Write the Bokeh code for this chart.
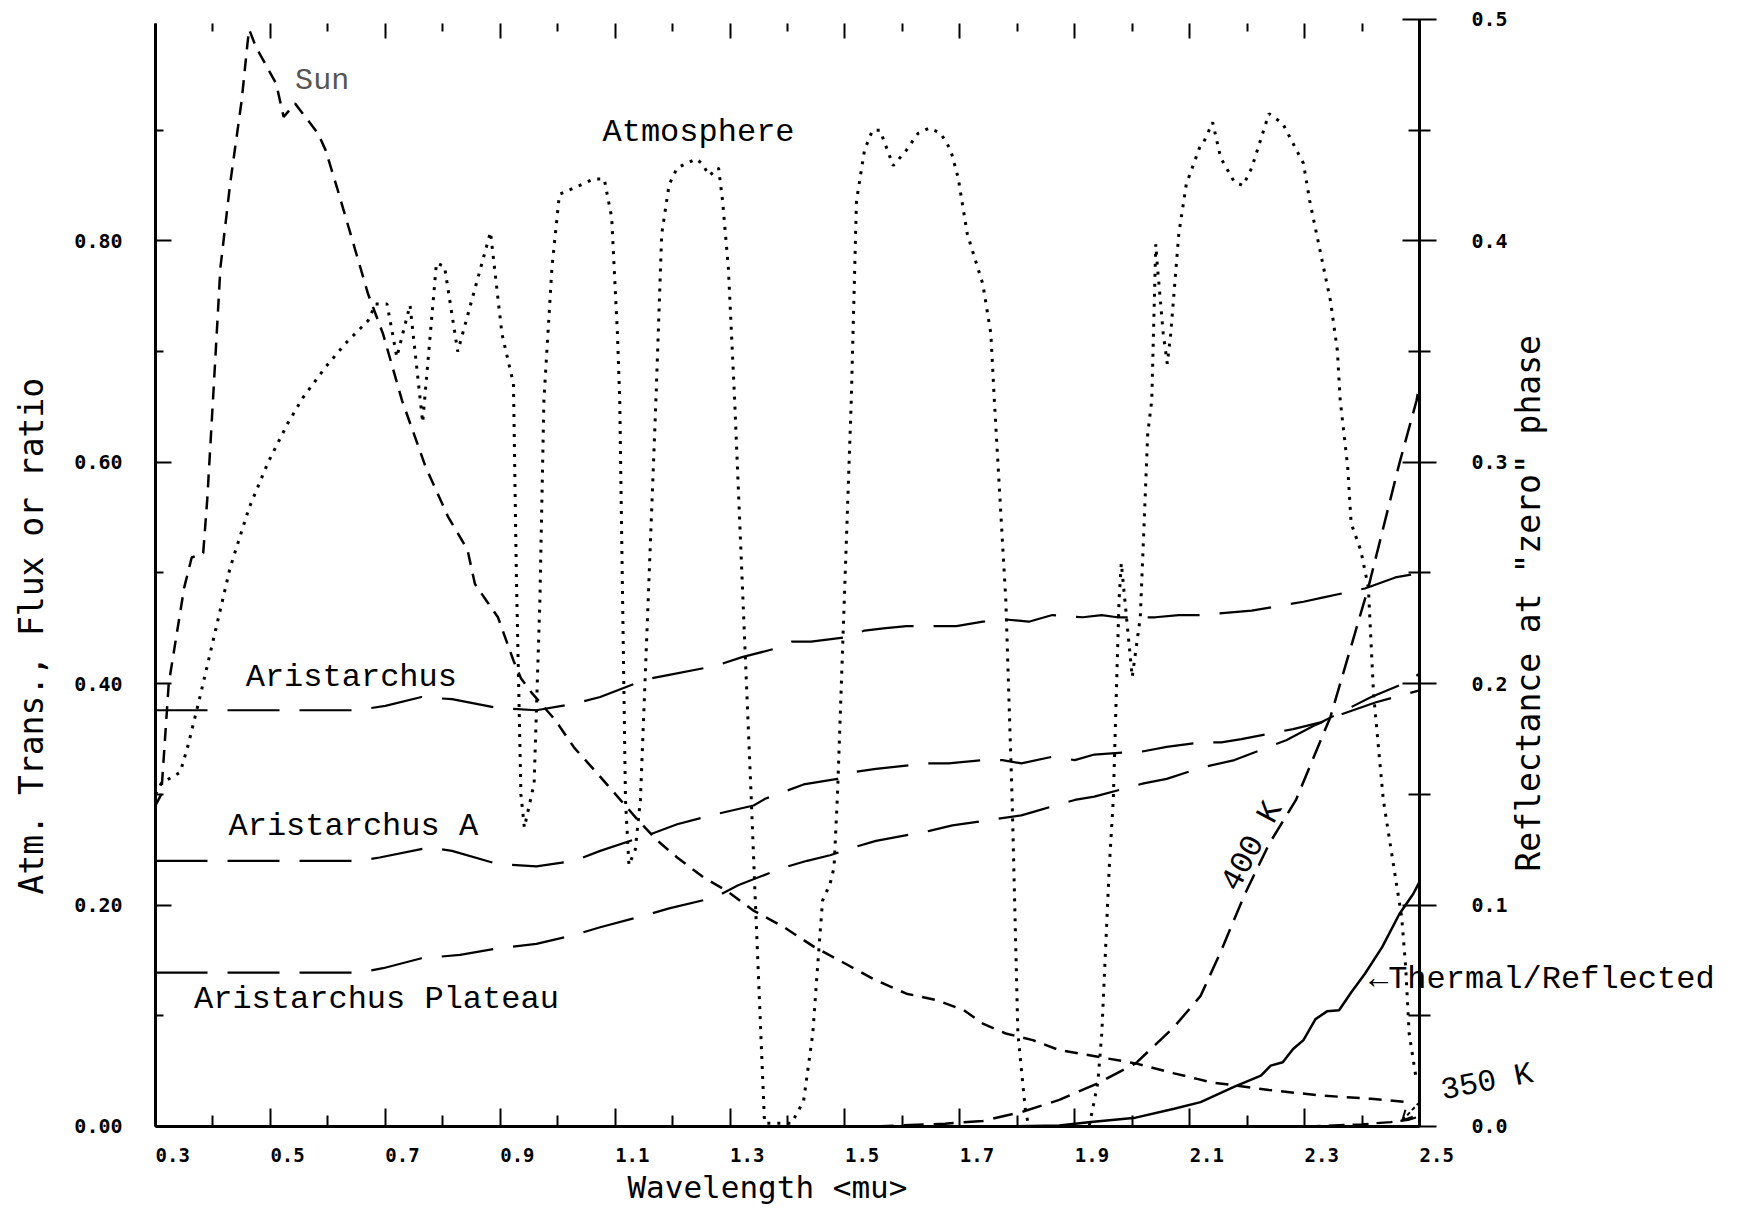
import math
from bokeh.plotting import figure
from bokeh.models import (Range1d, LinearAxis, FixedTicker, NumeralTickFormatter,
                          Label, Arrow, OpenHead)
from bokeh.embed import file_html
from bokeh.resources import INLINE

# ---------------- data ----------------
sun_wl = [0.30, 0.31, 0.323, 0.35, 0.363, 0.383, 0.39, 0.40, 0.413, 0.43, 0.45, 0.46, 0.463,
          0.475, 0.51, 0.523, 0.543, 0.583, 0.596, 0.616, 0.643, 0.67, 0.696, 0.729, 0.77,
          0.809, 0.843, 0.856, 0.876, 0.896, 0.923, 0.936, 0.956, 0.996, 1.029, 1.069, 1.141,
          1.174, 1.208, 1.254, 1.294, 1.341, 1.394, 1.447, 1.501, 1.554, 1.607, 1.66, 1.707,
          1.74, 1.78, 1.827, 1.873, 1.94, 2.006, 2.073, 2.113, 2.136, 2.238, 2.328, 2.416, 2.48]
sun_flux = [0.29, 0.30, 0.40, 0.487, 0.514, 0.518, 0.566, 0.656, 0.776, 0.852, 0.927, 0.978, 0.991,
            0.975, 0.942, 0.912, 0.924, 0.897, 0.882, 0.848, 0.80, 0.752, 0.716, 0.656, 0.596,
            0.551, 0.521, 0.49, 0.475, 0.46, 0.421, 0.405, 0.391, 0.367, 0.342, 0.319, 0.276,
            0.258, 0.243, 0.225, 0.213, 0.195, 0.18, 0.162, 0.147, 0.132, 0.12, 0.114, 0.105,
            0.093, 0.084, 0.078, 0.069, 0.063, 0.057, 0.048, 0.043, 0.04, 0.033, 0.028, 0.025, 0.022]

atm_wl = [0.30, 0.31, 0.343, 0.356, 0.376, 0.403, 0.43, 0.463, 0.496, 0.53, 0.556, 0.596, 0.63,
          0.67, 0.683, 0.703, 0.72, 0.743, 0.765, 0.789, 0.803, 0.826, 0.883, 0.903, 0.923,
          0.928, 0.936, 0.942, 0.959, 0.969, 0.976, 0.99, 1.003, 1.029, 1.063, 1.081, 1.094,
          1.104, 1.108, 1.118, 1.124, 1.135, 1.144, 1.171, 1.181, 1.194, 1.208, 1.241, 1.251,
          1.264, 1.28, 1.287, 1.297, 1.308, 1.337, 1.344, 1.36, 1.407, 1.428, 1.444, 1.454,
          1.461, 1.474, 1.481, 1.487, 1.511, 1.52, 1.534, 1.548, 1.561, 1.584, 1.607, 1.627,
          1.647, 1.667, 1.684, 1.697, 1.713, 1.74, 1.754, 1.76, 1.78, 1.791, 1.801, 1.814,
          1.82, 1.925, 1.94, 1.947, 1.96, 1.967, 1.977, 1.981, 1.99, 2.0, 2.014, 2.02, 2.027,
          2.034, 2.041, 2.044, 2.054, 2.061, 2.067, 2.081, 2.094, 2.117, 2.125, 2.14, 2.154,
          2.178, 2.193, 2.208, 2.238, 2.262, 2.298, 2.309, 2.321, 2.345, 2.357, 2.362, 2.375,
          2.381, 2.398, 2.411, 2.42, 2.437, 2.469, 2.476, 2.482, 2.494]
atm_trans = [0.30, 0.31, 0.32, 0.343, 0.385, 0.445, 0.505, 0.559, 0.60, 0.635, 0.658, 0.686, 0.707,
             0.728, 0.743, 0.743, 0.695, 0.742, 0.636, 0.78, 0.777, 0.70, 0.808, 0.716, 0.671,
             0.50, 0.30, 0.27, 0.31, 0.475, 0.656, 0.776, 0.842, 0.848, 0.856, 0.856, 0.821,
             0.716, 0.656, 0.295, 0.236, 0.25, 0.295, 0.656, 0.806, 0.851, 0.866, 0.874, 0.87,
             0.859, 0.866, 0.836, 0.776, 0.656, 0.295, 0.204, 0.003, 0.003, 0.023, 0.084, 0.156,
             0.204, 0.219, 0.234, 0.30, 0.656, 0.836, 0.882, 0.90, 0.90, 0.868, 0.882, 0.897,
             0.902, 0.897, 0.882, 0.857, 0.806, 0.761, 0.716, 0.656, 0.475, 0.295, 0.084, 0.015,
             0.0, 0.0, 0.039, 0.084, 0.234, 0.295, 0.475, 0.509, 0.46, 0.406, 0.46, 0.536, 0.626,
             0.656, 0.797, 0.776, 0.716, 0.689, 0.716, 0.806, 0.851, 0.884, 0.89, 0.907, 0.875,
             0.853, 0.85, 0.866, 0.915, 0.906, 0.87, 0.836, 0.806, 0.746, 0.701, 0.656, 0.596,
             0.545, 0.52, 0.487, 0.391, 0.295, 0.189, 0.144, 0.084, 0.044]

arist_wl = [0.30, 0.65, 0.70, 0.763, 0.816, 0.896, 0.963, 1.029, 1.074, 1.154, 1.194, 1.274, 1.321,
            1.381, 1.407, 1.441, 1.501, 1.534, 1.567, 1.607, 1.66, 1.694, 1.74, 1.78, 1.82, 1.861,
            1.914, 1.947, 1.974, 2.04, 2.081, 2.119, 2.208, 2.298, 2.333, 2.405, 2.458, 2.50]
arist_refl = [0.188, 0.188, 0.190, 0.194, 0.193, 0.189, 0.188, 0.191, 0.194, 0.202, 0.204, 0.208,
              0.212, 0.216, 0.219, 0.219, 0.221, 0.224, 0.225, 0.226, 0.226, 0.226, 0.228, 0.229,
              0.228, 0.231, 0.230, 0.231, 0.230, 0.230, 0.231, 0.231, 0.233, 0.237, 0.239, 0.243,
              0.248, 0.250]

aristA_wl = [0.30, 0.656, 0.69, 0.776, 0.816, 0.896, 0.963, 1.029, 1.074, 1.161, 1.208, 1.274, 1.341,
             1.361, 1.428, 1.487, 1.514, 1.554, 1.64, 1.68, 1.74, 1.774, 1.807, 1.861, 1.90, 1.934,
             2.02, 2.06, 2.119, 2.155, 2.19, 2.28, 2.328, 2.416, 2.476, 2.50]
aristA_refl = [0.120, 0.120, 0.1215, 0.126, 0.1245, 0.1185, 0.1175, 0.120, 0.1245, 0.132, 0.1365,
               0.141, 0.145, 0.148, 0.1545, 0.157, 0.160, 0.1615, 0.164, 0.164, 0.1655, 0.1655,
               0.164, 0.167, 0.1655, 0.168, 0.1695, 0.1715, 0.1735, 0.1735, 0.175, 0.1795, 0.1825,
               0.194, 0.2005, 0.2045]

plateau_wl = [0.30, 0.656, 0.696, 0.763, 0.83, 0.896, 0.963, 1.029, 1.074, 1.154, 1.194, 1.274,
              1.314, 1.394, 1.434, 1.474, 1.514, 1.554, 1.647, 1.687, 1.74, 1.807, 1.84, 1.90,
              1.934, 2.02, 2.06, 2.119, 2.178, 2.268, 2.316, 2.357, 2.423, 2.50]
plateau_refl = [0.0695, 0.0695, 0.0715, 0.076, 0.0775, 0.0805, 0.0825, 0.0865, 0.09, 0.0955, 0.0985,
                0.1035, 0.109, 0.117, 0.120, 0.1225, 0.126, 0.129, 0.1335, 0.136, 0.138, 0.1405,
                0.143, 0.1475, 0.149, 0.155, 0.157, 0.162, 0.1655, 0.1745, 0.181, 0.1855, 0.1915,
                0.197]

thermal_wl = [1.78, 1.873, 1.928, 2.006, 2.073, 2.119, 2.178, 2.224, 2.241, 2.262, 2.28, 2.298,
              2.319, 2.339, 2.36, 2.381, 2.405, 2.435, 2.465, 2.489, 2.50]
thermal_ratio = [0.0, 0.001, 0.004, 0.008, 0.016, 0.022, 0.036, 0.046, 0.055, 0.058, 0.07, 0.078,
                 0.097, 0.104, 0.105, 0.121, 0.138, 0.162, 0.192, 0.21, 0.221]

k400_wl = [1.55, 1.601, 1.674, 1.74, 1.807, 1.873, 1.94, 2.006, 2.073, 2.119, 2.155, 2.196, 2.238,
           2.285, 2.345, 2.411, 2.465, 2.495, 2.50]
k400_ratio = [0.0, 0.001, 0.0025, 0.005, 0.013, 0.024, 0.039, 0.057, 0.09, 0.118, 0.159, 0.21,
              0.255, 0.295, 0.37, 0.487, 0.599, 0.656, 0.672]

k350_wl = [2.30, 2.40, 2.45, 2.48, 2.50]
k350_ratio = [0.0, 0.002, 0.004, 0.006, 0.009]

x_ticks = [0.3, 0.5, 0.7, 0.9, 1.1, 1.3, 1.5, 1.7, 1.9, 2.1, 2.3, 2.5]
x_tick_labels = ["0.3", "0.5", "0.7", "0.9", "1.1", "1.3", "1.5", "1.7", "1.9", "2.1", "2.3", "2.5"]
x_minor_ticks = [0.4, 0.6, 0.8, 1.0, 1.2, 1.4, 1.6, 1.8, 2.0, 2.2, 2.4]
left_ticks = [0.0, 0.2, 0.4, 0.6, 0.8]
left_minor_ticks = [0.1, 0.3, 0.5, 0.7, 0.9]
right_ticks = [0.0, 0.1, 0.2, 0.3, 0.4, 0.5]
right_minor_ticks = [0.05, 0.15, 0.25, 0.35, 0.45]

# annotation texts: (text, x, y, angle_deg, align, size, color)   (y = vertical centre)
annotations = [
    ("Sun", 0.543, 0.944, 0, "left", "30px", "#555555"),
    ("Atmosphere", 1.078, 0.898, 0, "left", "32px", "black"),
    ("Aristarchus", 0.457, 0.406, 0, "left", "32px", "black"),
    ("Aristarchus A", 0.427, 0.271, 0, "left", "32px", "black"),
    ("Aristarchus Plateau", 0.367, 0.115, 0, "left", "32px", "black"),
    ("\u2190Thermal/Reflected", 2.412, 0.133, 0, "left", "32px", "black"),
    ("400 K", 2.209, 0.253, 62, "center", "32px", "black"),
    ("350 K", 2.538, 0.032, 11, "left", "31px", "black"),
]
arrow_350 = (2.50, 0.022, 2.47, 0.0054)

# ---------------- figure ----------------
# the data frame fills the whole canvas; axes are pinned with fixed_location
W, H = 1720, 1206
X_LO, X_HI = 0.0302, 3.0239          # 0.3 -> 155 px, 2.5 -> 1419 px
Y_LO, Y_HI = -0.07227, 1.01716       # 0 -> 1126 px, 1 -> 19 px
p = figure(width=W, height=H, x_range=Range1d(X_LO, X_HI), y_range=Range1d(Y_LO, Y_HI),
           output_backend="svg", toolbar_location=None,
           x_axis_location=None, y_axis_location=None,
           min_border_left=0, min_border_right=0, min_border_top=0, min_border_bottom=0)
p.extra_y_ranges = {"refl": Range1d(Y_LO / 2, Y_HI / 2)}
p.outline_line_color = None
p.background_fill_color = "white"
p.border_fill_color = "white"
p.grid.visible = False

tick_font = "DejaVu Sans Mono"

bottom = LinearAxis(ticker=FixedTicker(ticks=x_ticks, minor_ticks=x_minor_ticks),
                    fixed_location=0.0, bounds=(0.3, 2.5),
                    axis_line_width=3, major_tick_in=18, major_tick_out=0,
                    minor_tick_in=11, minor_tick_out=0, major_tick_line_width=2,
                    minor_tick_line_width=2, major_label_text_color=None)
p.add_layout(bottom, "below")

top = LinearAxis(ticker=FixedTicker(ticks=x_ticks, minor_ticks=x_minor_ticks),
                 fixed_location=0.996, bounds=(0.3, 2.5),
                 axis_line_color=None, major_tick_in=15, major_tick_out=0,
                 minor_tick_in=8, minor_tick_out=0, major_tick_line_width=2,
                 minor_tick_line_width=2, major_label_text_color=None)
p.add_layout(top, "above")

left = LinearAxis(ticker=FixedTicker(ticks=left_ticks, minor_ticks=left_minor_ticks),
                  formatter=NumeralTickFormatter(format="0.00"),
                  fixed_location=0.3, bounds=(0.0, 0.996),
                  axis_line_width=3, major_tick_in=16, major_tick_out=0,
                  minor_tick_in=8, minor_tick_out=0, major_tick_line_width=2,
                  minor_tick_line_width=2, major_label_standoff=33,
                  major_label_text_font=tick_font, major_label_text_font_style="bold",
                  major_label_text_font_size="20px", major_label_text_color="black")
p.add_layout(left, "left")

right = LinearAxis(y_range_name="refl",
                   ticker=FixedTicker(ticks=right_ticks, minor_ticks=right_minor_ticks),
                   formatter=NumeralTickFormatter(format="0.0"),
                   fixed_location=2.5, bounds=(0.0, 0.5),
                   axis_line_width=3, major_tick_in=17, major_tick_out=17,
                   minor_tick_in=11, minor_tick_out=11, major_tick_line_width=2,
                   minor_tick_line_width=2, major_label_standoff=35,
                   major_label_text_font=tick_font, major_label_text_font_style="bold",
                   major_label_text_font_size="20px", major_label_text_color="black")
p.add_layout(right, "right")

# ---------------- curves ----------------
p.line(sun_wl, sun_flux, line_color="black", line_width=2.5, line_dash="13 9")
p.line(atm_wl, atm_trans, line_color="black", line_width=3, line_dash="3 7")
p.line(arist_wl, arist_refl, y_range_name="refl", line_color="black", line_width=2.2, line_dash="52 20")
p.line(aristA_wl, aristA_refl, y_range_name="refl", line_color="black", line_width=2.2, line_dash="52 20")
p.line(plateau_wl, plateau_refl, y_range_name="refl", line_color="black", line_width=2.2, line_dash="52 20")
p.line(k400_wl, k400_ratio, line_color="black", line_width=2.5, line_dash="20 10")
p.line(k350_wl, k350_ratio, line_color="black", line_width=2.2, line_dash="16 8")
p.line(thermal_wl, thermal_ratio, line_color="black", line_width=2.5)

# ---------------- texts ----------------
for (txt, x, y, ang, al, sz, col) in annotations:
    p.add_layout(Label(x=x, y=y, text=txt, angle=math.radians(ang), text_align=al,
                       text_baseline="middle", text_font="Liberation Mono", text_font_size=sz,
                       text_color=col))

p.add_layout(Arrow(end=OpenHead(size=10, line_width=2), x_start=arrow_350[0], y_start=arrow_350[1],
                   x_end=arrow_350[2], y_end=arrow_350[3], line_width=2, line_dash="4 3"))

for t, s in zip(x_ticks, x_tick_labels):
    p.add_layout(Label(x=t, y=-0.026, text=s, text_align="left", text_baseline="middle",
                       text_font=tick_font, text_font_style="bold", text_font_size="19px",
                       text_color="black"))

p.add_layout(Label(x=0.084, y=0.443, text="Atm. Trans., Flux or ratio", angle=math.pi / 2,
                   text_align="center", text_baseline="middle", text_font=tick_font,
                   text_font_size="33px", text_color="black"))
p.add_layout(Label(x=2.69, y=0.4726, text='Reflectance at "zero" phase', angle=math.pi / 2,
                   text_align="center", text_baseline="middle", text_font=tick_font,
                   text_font_size="33px", text_color="black"))
p.add_layout(Label(x=1.365, y=-0.0551, text="Wavelength <mu>", text_align="center",
                   text_baseline="middle", text_font=tick_font, text_font_size="31px",
                   text_color="black"))

open("out.html", "w").write(file_html(p, INLINE))
